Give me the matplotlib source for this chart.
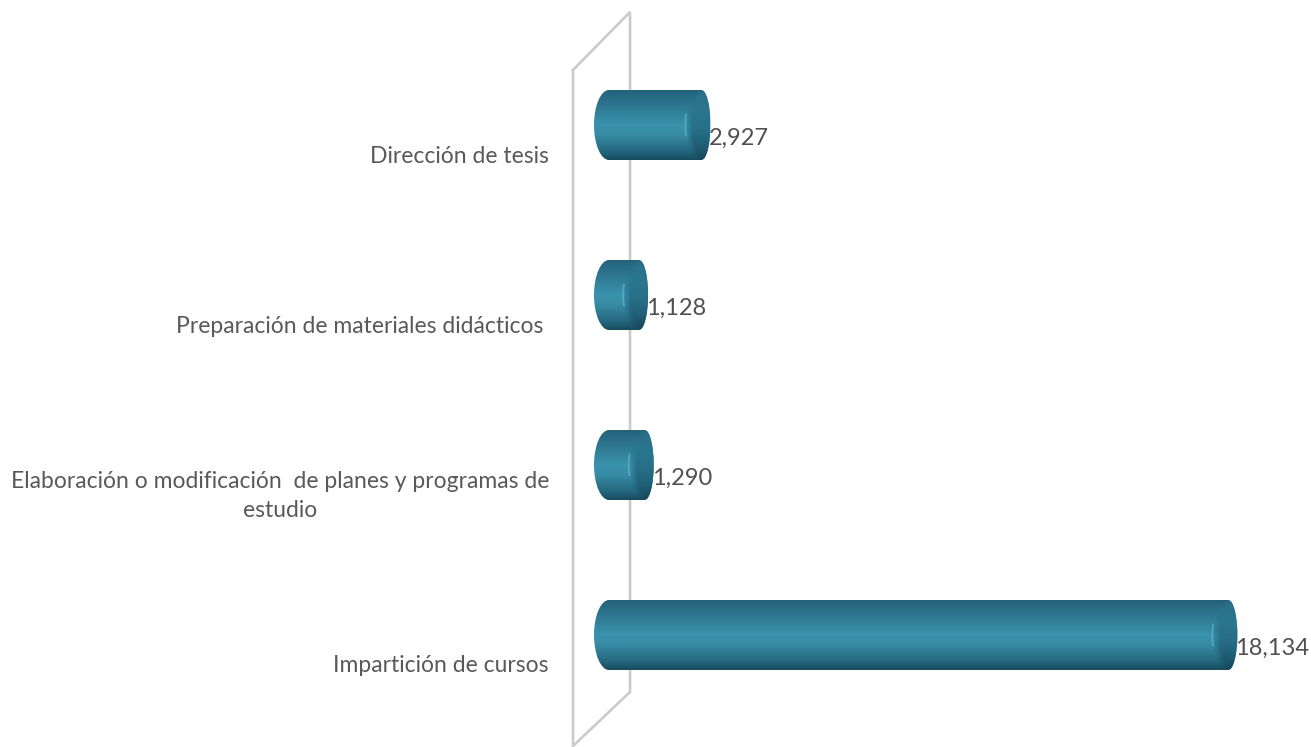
import numpy as np
import matplotlib
matplotlib.use('Agg')
import matplotlib.pyplot as plt
from matplotlib.path import Path
from matplotlib.patches import PathPatch
from matplotlib.colors import LinearSegmentedColormap

# datos
categorias = ['Impartición de cursos',
              'Elaboración o modificación  de planes y programas de\nestudio',
              'Preparación de materiales didácticos ',
              'Dirección de tesis']
valores = [18134, 1290, 1128, 2927]
etiquetas = ['18,134', '1,290', '1,128', '2,927']

W, H = 1311, 747
PX_X = 0.03465   # pixeles por unidad
X0 = 609         # pixel del cero
Y_BASE = 635     # pixel de la primera categoria
PX_Y = 170       # pixeles entre categorias

plt.rcParams['font.family'] = ['Lato', 'DejaVu Sans']

fig = plt.figure(figsize=(W / 100, H / 100), dpi=100)
ax = fig.add_axes([0, 0, 1, 1])
ax.set_xlim(-X0 / PX_X, (W - X0) / PX_X)
ax.set_ylim(-(H - Y_BASE) / PX_Y, Y_BASE / PX_Y)
ax.axis('off')

# pared gris del grafico 3D (en pixeles -> fraccion de ejes)
pared = np.array([[573, 70], [630, 12], [630, 692], [573, 746], [573, 70]], float)
ax.plot(pared[:, 0] / W, 1 - pared[:, 1] / H, color='#cbcbcb', lw=1.9,
        transform=ax.transAxes, zorder=1, solid_joinstyle='miter')

cuerpo = LinearSegmentedColormap.from_list('cuerpo', [
    (0.0, '#24627a'), (0.15, '#2b7089'), (0.5, '#3b93ae'),
    (0.65, '#378aa3'), (0.88, '#24677e'), (1.0, '#194a5c')])
tapa = LinearSegmentedColormap.from_list('tapa', [
    (0.0, '#2a6f88'), (0.3, '#2a7690'), (0.55, '#286f88'),
    (0.8, '#1f5e75'), (1.0, '#174658')])
grad = np.linspace(0, 1, 128).reshape(-1, 1)


def cilindro(y, v):
    h = 35 / PX_Y          # medio alto
    a = 15 / PX_X          # tapa izquierda
    b = 9 / PX_X           # tapa derecha
    c = 16 / PX_X          # elipse interior
    fin = v - b
    k = 0.55
    contorno = Path(
        [(0, y + h), (fin, y + h),
         (fin + b * k, y + h), (v, y + h * k), (v, y),
         (v, y - h * k), (fin + b * k, y - h), (fin, y - h),
         (0, y - h),
         (-a * k, y - h), (-a, y - h * k), (-a, y),
         (-a, y + h * k), (-a * k, y + h), (0, y + h),
         (0, y + h)],
        [Path.MOVETO, Path.LINETO,
         Path.CURVE4, Path.CURVE4, Path.CURVE4,
         Path.CURVE4, Path.CURVE4, Path.CURVE4,
         Path.LINETO,
         Path.CURVE4, Path.CURVE4, Path.CURVE4,
         Path.CURVE4, Path.CURVE4, Path.CURVE4,
         Path.CLOSEPOLY])
    im = ax.imshow(grad, cmap=cuerpo, extent=[-a, v, y - h, y + h], aspect='auto',
                   origin='upper', zorder=2, interpolation='bilinear')
    im.set_clip_path(PathPatch(contorno, transform=ax.transData))

    # tapa derecha, mas oscura, con borde suave sobre la elipse interior
    uu, ww = np.meshgrid(np.linspace(0, 1, 60), np.linspace(-1, 1, 70))
    arco = (1 - np.sqrt(np.clip(1 - ww ** 2, 0, 1))) * c / (c + b)
    rgba = tapa((ww + 1) / 2)
    rgba[..., 3] = np.clip((uu - arco) / 0.3, 0, 1)
    im2 = ax.imshow(rgba, extent=[fin - c, v, y - h, y + h], aspect='auto',
                    origin='upper', zorder=3, interpolation='bilinear')
    im2.set_clip_path(PathPatch(contorno, transform=ax.transData))

    # brillo sobre el arco interior
    ww2 = np.linspace(-0.3, 0.3, 30)
    ax.plot(fin - c + c * (1 - np.sqrt(1 - ww2 ** 2)), y + ww2 * h,
            color='#62b8cc', lw=1.4, alpha=0.6, zorder=4, solid_capstyle='round')


for i, v in enumerate(valores):
    cilindro(i, v)

for i, (cat, v, et) in enumerate(zip(categorias, valores, etiquetas)):
    ax.annotate(cat, xy=(0, i), xytext=(549 - X0, -31), textcoords='offset pixels',
                ha='right', va='center', multialignment='center',
                fontsize=16.5, color='#595959', linespacing=1.5, zorder=5)
    ax.annotate(et, xy=(v, i), xytext=(-2, -13), textcoords='offset pixels',
                ha='left', va='center', fontsize=17, color='#505050', zorder=5)

ax.set_xlim(-X0 / PX_X, (W - X0) / PX_X)
ax.set_ylim(-(H - Y_BASE) / PX_Y, Y_BASE / PX_Y)
fig.savefig('out.png', dpi=100)
